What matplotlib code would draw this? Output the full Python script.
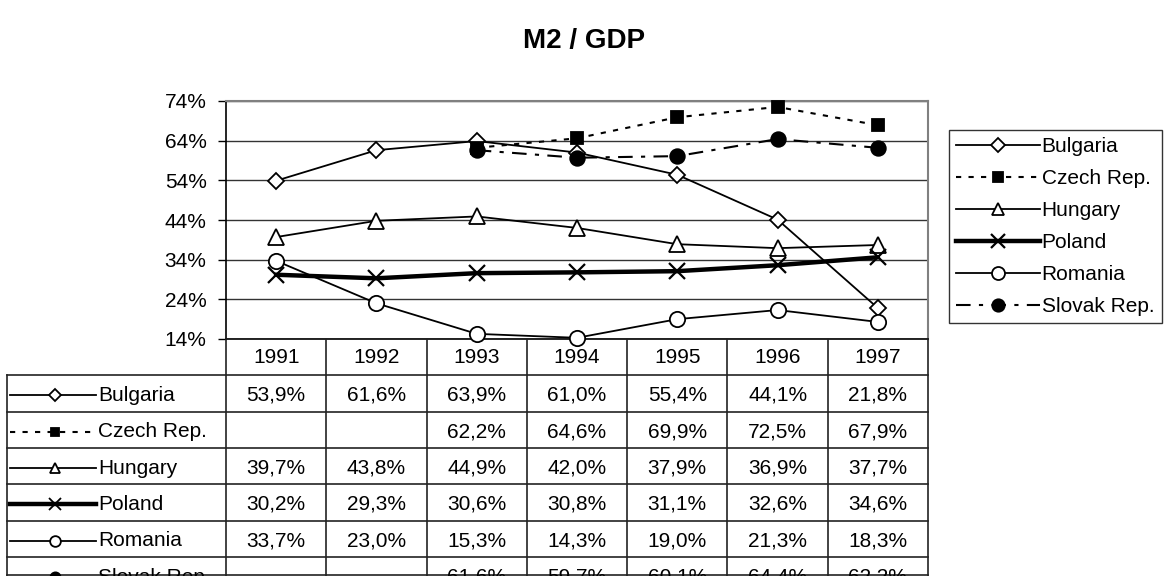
import matplotlib.pyplot as plt
import numpy as np

plt.rcParams['font.family'] = ['Liberation Sans', 'DejaVu Sans']

years = ['1991', '1992', '1993', '1994', '1995', '1996', '1997']
countries = ['Bulgaria', 'Czech Rep.', 'Hungary', 'Poland', 'Romania', 'Slovak Rep.']
bulgaria = [53.9, 61.6, 63.9, 61.0, 55.4, 44.1, 21.8]
czech = [np.nan, np.nan, 62.2, 64.6, 69.9, 72.5, 67.9]
hungary = [39.7, 43.8, 44.9, 42.0, 37.9, 36.9, 37.7]
poland = [30.2, 29.3, 30.6, 30.8, 31.1, 32.6, 34.6]
romania = [33.7, 23.0, 15.3, 14.3, 19.0, 21.3, 18.3]
slovak = [np.nan, np.nan, 61.6, 59.7, 60.1, 64.4, 62.2]
values = [bulgaria, czech, hungary, poland, romania, slovak]

# line styles: (linestyle, lw, marker, markersize, filled)
styles = [
    ('-', 1.3, 'D', 8.5, False),
    ((0, (2.5, 3.5)), 1.5, 's', 8.5, True),
    ('-', 1.3, '^', 11, False),
    ('-', 3.2, 'x', 12, False),
    ('-', 1.3, 'o', 11, False),
    ((0, (7, 4, 2, 4)), 1.5, 'o', 10.5, True),
]

FS = 15
W, H = 1169, 576
fig = plt.figure(figsize=(W / 100, H / 100), dpi=100)


def box(l, t, r, b):
    return [l / W, 1 - b / H, (r - l) / W, (b - t) / H]


fig.text(584 / W, 1 - 41 / H, 'M2 / GDP', ha='center', va='center',
         fontsize=20, fontweight='bold')

ax = fig.add_axes(box(226, 101, 928, 339))
x = np.arange(len(years))
for name, vals, (ls, lw, mk, ms, filled) in zip(countries, values, styles):
    ax.plot(x, vals, color='black', linestyle=ls, lw=lw, marker=mk, ms=ms,
            mfc='black' if filled else 'white', mec='black',
            mew=1.3 if mk != 'x' else 1.6, label=name, clip_on=False, zorder=3)

ax.set_xlim(-0.5, 6.5)
ax.set_ylim(14, 74)
ax.set_yticks(np.arange(14, 75, 10))
ax.set_yticklabels([f'{v}%' for v in range(14, 75, 10)], fontsize=FS)
ax.set_xticks([])
ax.tick_params(axis='y', direction='out', length=6, width=1, pad=8)
ax.grid(axis='y', color='#333333', lw=1)
ax.set_axisbelow(True)
for s in ['top', 'right']:
    ax.spines[s].set_color('#808080')
    ax.spines[s].set_linewidth(1.5)
ax.spines['left'].set_linewidth(1.2)
ax.spines['bottom'].set_linewidth(1.2)

leg = ax.legend(loc='upper left', bbox_to_anchor=(949 / W, 1 - 130 / H),
                bbox_transform=fig.transFigure, frameon=True, fancybox=False,
                edgecolor='black', fontsize=FS, handlelength=4.0,
                handletextpad=0.1, labelspacing=0.62, borderpad=0.35,
                markerscale=0.85, borderaxespad=0)
leg.get_frame().set_linewidth(1.0)

# data table under the chart
tax = fig.add_axes(box(5, 339, 928, 576))
unit = 702 / 7.0
left = -0.5 - 221 / unit
tax.set_xlim(left, 6.5)
tax.set_ylim(6.52, 0)
tax.axis('off')


def tx(p):
    return left + (p - 5) / unit


lc = '#222222'
for r in range(1, 7):
    tax.plot([left + 0.02, 6.5], [r, r], color=lc, lw=1.2, clip_on=False)
for k in range(8):
    tax.plot([k - 0.5, k - 0.5], [0, 6.52], color=lc, lw=1.2, clip_on=False)
tax.plot([left + 0.02, left + 0.02], [1, 6.52], color=lc, lw=1.2, clip_on=False)
tax.plot([left + 0.02, 6.5], [6.49, 6.49], color=lc, lw=1.2, clip_on=False)

for i, yr in enumerate(years):
    tax.text(i, 0.52, yr, ha='center', va='center', fontsize=FS)

for r, (name, vals, (ls, lw, mk, ms, filled)) in enumerate(
        zip(countries, values, styles), start=1):
    yc = r + 0.55
    tax.plot([tx(10), tx(96)], [yc, yc], color='black', linestyle=ls, lw=lw,
             clip_on=False)
    tax.plot([tx(55)], [yc], color='black', marker=mk, ms=ms * 0.7,
             mfc='black' if filled else 'white', mec='black', mew=1.3,
             linestyle='none', clip_on=False)
    tax.text(tx(98), yc, name, ha='left', va='center', fontsize=FS)
    for i, v in enumerate(vals):
        if not np.isnan(v):
            tax.text(i, yc, f'{v:.1f}%'.replace('.', ','), ha='center',
                     va='center', fontsize=FS)

fig.savefig('out.png', dpi=100)
